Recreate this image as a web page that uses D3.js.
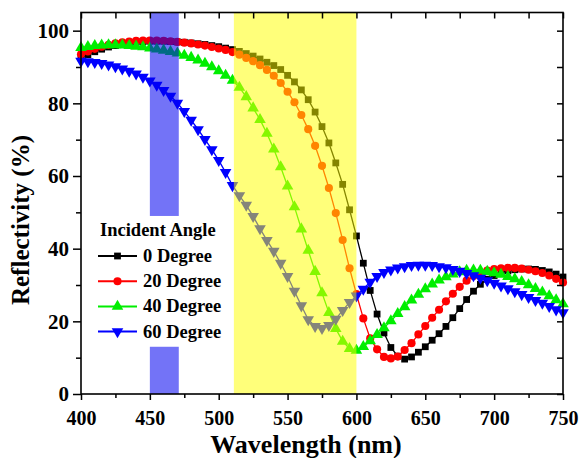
<!DOCTYPE html>
<html><head><meta charset="utf-8">
<script src="https://cdn.jsdelivr.net/npm/d3@7"></script>
<style>body{margin:0;background:#fff}svg{display:block}text{font-family:"Liberation Serif","Times New Roman",serif;font-weight:bold}</style>
</head><body>
<svg id="c" width="579" height="458"></svg>
<script>
const wavelengths = [400,405,410,415,420,425,430,435,440,445,450,455,460,465,470,475,480,485,490,495,500,505,510,515,520,525,530,535,540,545,550,555,560,565,570,575,580,585,590,595,600,605,610,615,620,625,630,635,640,645,650,655,660,665,670,675,680,685,690,695,700,705,710,715,720,725,730,735,740,745,750];
const deg0  = [92.5,93.4,94.2,94.9,95.5,95.9,96.3,96.6,96.8,97.0,97.1,97.1,97.1,97.0,96.9,96.8,96.6,96.4,96.2,95.9,95.6,95.2,94.8,94.3,93.7,93.0,92.2,91.3,90.4,89.3,87.7,85.9,83.7,81.0,77.6,73.6,69.1,63.6,57.7,50.7,43.5,36.0,28.5,22.0,16.8,12.8,10.4,9.6,10.2,11.5,13.0,14.8,16.6,18.6,21.0,23.5,26.0,28.3,30.2,31.6,32.6,33.4,33.9,34.2,34.4,34.4,34.3,34.0,33.6,33.0,32.2];
const deg20 = [93.5,94.3,95.0,95.6,96.1,96.5,96.8,97.0,97.2,97.3,97.3,97.3,97.2,97.1,96.9,96.7,96.5,96.2,95.9,95.5,95.1,94.7,94.1,93.4,92.5,91.6,90.5,89.2,87.6,85.6,83.2,80.3,76.8,72.9,68.3,62.8,56.7,49.8,42.4,34.6,27.5,20.8,15.3,12.3,10.2,9.8,10.3,12.1,14.0,16.4,18.7,21.0,23.2,25.5,27.6,29.5,31.2,32.5,33.4,34.0,34.4,34.6,34.7,34.7,34.5,34.2,33.8,33.3,32.6,31.7,30.7];
const deg40 = [95.3,95.6,95.9,96.0,96.1,96.1,96.0,95.9,95.7,95.5,95.2,94.9,94.6,94.2,93.8,93.2,92.6,91.9,91.0,90.0,88.9,87.7,86.3,84.4,81.8,78.7,75.5,71.7,67.4,62.5,57.2,51.5,45.4,39.5,33.7,27.8,22.4,18.0,14.5,12.5,12.0,13.0,14.6,16.3,18.2,20.1,22.1,24.0,25.8,27.4,28.9,30.2,31.3,32.2,33.0,33.6,34.0,34.1,34.0,33.7,33.3,32.9,32.3,31.7,30.9,30.0,29.0,28.0,27.0,25.9,24.8];
const deg60 = [91.6,91.5,91.3,91.0,90.6,90.1,89.5,88.9,88.1,87.2,86.2,85.0,83.6,82.0,80.1,77.8,75.4,72.8,70.1,67.3,64.3,61.0,57.4,54.6,52.0,48.9,45.5,42.3,39.3,36.0,32.4,28.3,24.3,20.5,18.6,18.1,18.9,20.6,23.0,25.2,27.0,28.9,30.8,32.4,33.5,34.2,34.7,35.1,35.4,35.5,35.5,35.4,35.1,34.8,34.3,33.8,33.2,32.6,31.9,31.2,30.5,29.8,29.0,28.2,27.4,26.6,25.8,25.0,24.1,23.2,22.4];
const seriesNames = ["0 Degree","20 Degree","40 Degree","60 Degree"];
const seriesColors = ["#000000","#ff0000","#00ee00","#0000ff"];
const xTicks = [400,450,500,550,600,650,700,750];
const yTicks = [0,20,40,60,80,100];
const blueBand = [450,471];
const blueBandGaps = [[49,105],[0,13]];
const yellowBand = [511,600];

const svg = d3.select("#c");
const L=81,R=563,T=12.5,B=394;
const x = d3.scaleLinear().domain([400,750]).range([L,R]);
const y = d3.scaleLinear().domain([0,105]).range([B,T]);

const all = [deg0,deg20,deg40,deg60];
const symbols = [d3.symbolSquare,d3.symbolCircle,d3.symbolTriangle,d3.symbolTriangle];
const sizes = [46,52,58,58];
const rots = [0,0,0,180];
const line = d3.line().x((d,i)=>x(wavelengths[i])).y(d=>y(d));

all.forEach((s,k)=>{
  const g = svg.append("g");
  g.append("path").attr("d",line(s)).attr("fill","none").attr("stroke",seriesColors[k]).attr("stroke-width",1.3);
  g.selectAll("path.m").data(s).enter().append("path").attr("class","m")
   .attr("d",d3.symbol().type(symbols[k]).size(sizes[k]))
   .attr("transform",(d,i)=>`translate(${x(wavelengths[i])},${y(d)}) rotate(${rots[k]})`)
   .attr("fill",seriesColors[k]);
});

// overlay bands
svg.append("rect").attr("x",x(yellowBand[0])).attr("width",x(yellowBand[1])-x(yellowBand[0]))
  .attr("y",T).attr("height",B-T).attr("fill","#ffff00").attr("fill-opacity",0.52);
blueBandGaps.forEach(r=>{
  svg.append("rect").attr("x",x(blueBand[0])).attr("width",x(blueBand[1])-x(blueBand[0]))
   .attr("y",y(r[1])).attr("height",y(r[0])-y(r[1])).attr("fill","#0000f0").attr("fill-opacity",0.55);
});

// axes
const axB = svg.append("g").attr("transform",`translate(0,${B})`)
  .call(d3.axisBottom(x).tickValues(d3.range(400,751,25)).tickSize(6).tickPadding(11).tickFormat(d=>xTicks.includes(d)?d:""));
const axL = svg.append("g").attr("transform",`translate(${L},0)`)
  .call(d3.axisLeft(y).tickValues(d3.range(0,101,10)).tickSize(8).tickPadding(4).tickFormat(d=>yTicks.includes(d)?d:""));
const axT = svg.append("g").attr("transform",`translate(0,${T})`)
  .call(d3.axisTop(x).tickValues(d3.range(400,751,25)).tickSize(-6).tickFormat(""));
const axR = svg.append("g").attr("transform",`translate(${R},0)`)
  .call(d3.axisRight(y).tickValues(d3.range(0,101,10)).tickSize(-6).tickFormat(""));
[axB,axL,axT,axR].forEach(a=>{a.select(".domain").remove();a.selectAll("line").attr("stroke","#000").attr("stroke-width",1.5);});
axB.selectAll("text").attr("font-size",20).attr("fill","#000");
axL.selectAll("text").attr("font-size",21).attr("fill","#000");
axB.selectAll(".tick").filter(d=>!xTicks.includes(d)).select("line").attr("y2",4);
axL.selectAll(".tick").filter(d=>!yTicks.includes(d)).select("line").attr("x2",-5);
svg.append("rect").attr("x",L).attr("y",T).attr("width",R-L).attr("height",B-T).attr("fill","none").attr("stroke","#000").attr("stroke-width",1.6);

svg.append("text").attr("x",306).attr("y",453).attr("text-anchor","middle").attr("font-size",26).text("Wavelength (nm)");
svg.append("text").attr("transform","translate(29,220) rotate(-90)").attr("text-anchor","middle").attr("font-size",25).text("Reflectivity (%)");

// legend
const lg = svg.append("g");
lg.append("text").attr("x",100).attr("y",236).attr("font-size",18.5).text("Incident Angle");
seriesNames.forEach((n,k)=>{
  const yy = 256 + k*25.2;
  lg.append("line").attr("x1",98).attr("x2",137).attr("y1",yy).attr("y2",yy).attr("stroke",seriesColors[k]).attr("stroke-width",2);
  lg.append("path").attr("d",d3.symbol().type(symbols[k]).size(sizes[k]))
    .attr("transform",`translate(117.5,${yy}) rotate(${rots[k]})`).attr("fill",seriesColors[k]);
  lg.append("text").attr("x",143).attr("y",yy+6).attr("font-size",18.5).text(n);
});
</script>
</body></html>
